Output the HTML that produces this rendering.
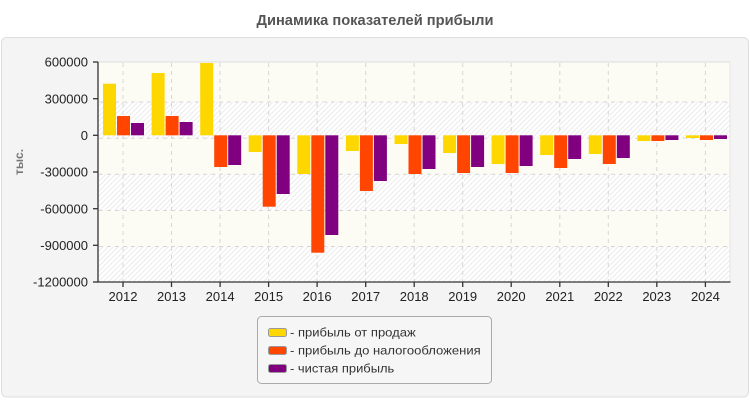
<!DOCTYPE html>
<html><head><meta charset="utf-8">
<style>
html,body{margin:0;padding:0;background:#fff;}
svg{display:block;}
text{font-family:"Liberation Sans","Noto Sans CJK SC",sans-serif;}
</style></head>
<body>
<svg width="750" height="400" viewBox="0 0 750 400" xmlns="http://www.w3.org/2000/svg">
<defs>
<pattern id="hatch" patternUnits="userSpaceOnUse" width="5" height="5">
<rect width="5" height="5" fill="#ffffff"/>
<path d="M-1,1 L1,-1 M0,5 L5,0 M4,6 L6,4" stroke="#ececec" stroke-width="1"/>
</pattern>
</defs>
<rect x="0" y="0" width="750" height="400" fill="#fff"/>
<text x="375" y="25" text-anchor="middle" font-size="14.5" font-weight="bold" fill="#555" textLength="237" lengthAdjust="spacingAndGlyphs">Динамика показателей прибыли</text>
<rect x="1.5" y="37.5" width="747" height="359.5" rx="5" fill="#f4f4f4" stroke="#dedede"/>

<!-- plot bands -->
<rect x="98" y="62" width="632" height="40" fill="#fcfcf4"/>
<rect x="98" y="102" width="632" height="36.3" fill="url(#hatch)"/>
<rect x="98" y="138.3" width="632" height="36" fill="#fcfcf4"/>
<rect x="98" y="174.3" width="632" height="36.2" fill="url(#hatch)"/>
<rect x="98" y="210.5" width="632" height="36" fill="#fcfcf4"/>
<rect x="98" y="246.5" width="632" height="35.5" fill="url(#hatch)"/>
<line x1="98" y1="62" x2="730" y2="62" stroke="#dcdcdc"/>
<line x1="730" y1="62" x2="730" y2="282" stroke="#e4e4e4"/>

<!-- grid -->
<g stroke="#d6d6d6" stroke-width="1" stroke-dasharray="4,4" fill="none">
<line x1="99" y1="102" x2="730" y2="102"/>
<line x1="99" y1="138.3" x2="730" y2="138.3"/>
<line x1="99" y1="174.3" x2="730" y2="174.3"/>
<line x1="99" y1="210.5" x2="730" y2="210.5"/>
<line x1="99" y1="246.5" x2="730" y2="246.5"/>
<line x1="123" y1="63" x2="123" y2="282"/>
<line x1="171.5" y1="63" x2="171.5" y2="282"/>
<line x1="220.1" y1="63" x2="220.1" y2="282"/>
<line x1="268.6" y1="63" x2="268.6" y2="282"/>
<line x1="317.1" y1="63" x2="317.1" y2="282"/>
<line x1="365.7" y1="63" x2="365.7" y2="282"/>
<line x1="414.2" y1="63" x2="414.2" y2="282"/>
<line x1="462.7" y1="63" x2="462.7" y2="282"/>
<line x1="511.2" y1="63" x2="511.2" y2="282"/>
<line x1="559.8" y1="63" x2="559.8" y2="282"/>
<line x1="608.3" y1="63" x2="608.3" y2="282"/>
<line x1="656.8" y1="63" x2="656.8" y2="282"/>
<line x1="705.4" y1="63" x2="705.4" y2="282"/>
</g>

<!-- bars: yellow -->
<g fill="#FFD700">
<rect x="103" y="83.7" width="13" height="51.6"/>
<rect x="151.6" y="73" width="13" height="62.3"/>
<rect x="200.2" y="63" width="13" height="72.3"/>
<rect x="248.7" y="135.3" width="13" height="16.7"/>
<rect x="297.3" y="135.3" width="13" height="38.7"/>
<rect x="345.9" y="135.3" width="13" height="15.7"/>
<rect x="394.5" y="135.3" width="13" height="8.7"/>
<rect x="443.1" y="135.3" width="13" height="17.7"/>
<rect x="491.6" y="135.3" width="13" height="28.7"/>
<rect x="540.2" y="135.3" width="13" height="19.7"/>
<rect x="588.8" y="135.3" width="13" height="18.7"/>
<rect x="637.4" y="135.3" width="13" height="5.7"/>
<rect x="686" y="135.3" width="13" height="2.7"/>
</g>
<!-- bars: orange -->
<g fill="#FF4500">
<rect x="117" y="116" width="13" height="19.3"/>
<rect x="165.6" y="116" width="13" height="19.3"/>
<rect x="214.2" y="135.3" width="13" height="31.7"/>
<rect x="262.7" y="135.3" width="13" height="71.4"/>
<rect x="311.3" y="135.3" width="13" height="117.4"/>
<rect x="359.9" y="135.3" width="13" height="55.7"/>
<rect x="408.5" y="135.3" width="13" height="38.7"/>
<rect x="457.1" y="135.3" width="13" height="37.7"/>
<rect x="505.6" y="135.3" width="13" height="37.7"/>
<rect x="554.2" y="135.3" width="13" height="32.7"/>
<rect x="602.8" y="135.3" width="13" height="28.7"/>
<rect x="651.4" y="135.3" width="13" height="5.7"/>
<rect x="700" y="135.3" width="13" height="4.7"/>
</g>
<!-- bars: purple -->
<g fill="#800080">
<rect x="131" y="123" width="13" height="12.3"/>
<rect x="179.6" y="122" width="13" height="13.3"/>
<rect x="228.2" y="135.3" width="13" height="29.7"/>
<rect x="276.7" y="135.3" width="13" height="58.7"/>
<rect x="325.3" y="135.3" width="13" height="99.7"/>
<rect x="373.9" y="135.3" width="13" height="45.7"/>
<rect x="422.5" y="135.3" width="13" height="33.7"/>
<rect x="471.1" y="135.3" width="13" height="31.7"/>
<rect x="519.6" y="135.3" width="13" height="30.7"/>
<rect x="568.2" y="135.3" width="13" height="23.7"/>
<rect x="616.8" y="135.3" width="13" height="22.7"/>
<rect x="665.4" y="135.3" width="13" height="4.7"/>
<rect x="714" y="135.3" width="13" height="3.7"/>
</g>

<!-- axes -->
<g stroke="#333" stroke-width="1.3" fill="none">
<line x1="98" y1="62" x2="98" y2="282.5"/>
<line x1="97.5" y1="282" x2="730.5" y2="282"/>
<line x1="93" y1="62" x2="98" y2="62"/>
<line x1="93" y1="98.7" x2="98" y2="98.7"/>
<line x1="93" y1="135.3" x2="98" y2="135.3"/>
<line x1="93" y1="172" x2="98" y2="172"/>
<line x1="93" y1="208.7" x2="98" y2="208.7"/>
<line x1="93" y1="245.3" x2="98" y2="245.3"/>
<line x1="93" y1="282" x2="98" y2="282"/>
<line x1="123" y1="282" x2="123" y2="287"/>
<line x1="171.5" y1="282" x2="171.5" y2="287"/>
<line x1="220.1" y1="282" x2="220.1" y2="287"/>
<line x1="268.6" y1="282" x2="268.6" y2="287"/>
<line x1="317.1" y1="282" x2="317.1" y2="287"/>
<line x1="365.7" y1="282" x2="365.7" y2="287"/>
<line x1="414.2" y1="282" x2="414.2" y2="287"/>
<line x1="462.7" y1="282" x2="462.7" y2="287"/>
<line x1="511.2" y1="282" x2="511.2" y2="287"/>
<line x1="559.8" y1="282" x2="559.8" y2="287"/>
<line x1="608.3" y1="282" x2="608.3" y2="287"/>
<line x1="656.8" y1="282" x2="656.8" y2="287"/>
<line x1="705.4" y1="282" x2="705.4" y2="287"/>
</g>

<!-- y labels -->
<g font-size="13" fill="#222" text-anchor="end">
<text x="88" y="66.6">600000</text>
<text x="88" y="103.3">300000</text>
<text x="88" y="139.9">0</text>
<text x="88" y="176.6">-300000</text>
<text x="88" y="213.3">-600000</text>
<text x="88" y="249.9">-900000</text>
<text x="88" y="286.6">-1200000</text>
</g>
<text transform="translate(23,162) rotate(-90)" text-anchor="middle" font-size="12" font-weight="bold" fill="#777">тыс.</text>

<!-- x labels -->
<g font-size="13" fill="#222" text-anchor="middle">
<text x="123" y="301">2012</text>
<text x="171.5" y="301">2013</text>
<text x="220.1" y="301">2014</text>
<text x="268.6" y="301">2015</text>
<text x="317.1" y="301">2016</text>
<text x="365.7" y="301">2017</text>
<text x="414.2" y="301">2018</text>
<text x="462.7" y="301">2019</text>
<text x="511.2" y="301">2020</text>
<text x="559.8" y="301">2021</text>
<text x="608.3" y="301">2022</text>
<text x="656.8" y="301">2023</text>
<text x="705.4" y="301">2024</text>
</g>

<!-- legend -->
<rect x="257.5" y="316.5" width="234" height="67" rx="4" fill="#f6f6f6" stroke="#aaa"/>
<rect x="268.5" y="328.5" width="18" height="8" rx="2" fill="#FFD700" stroke="#999"/>
<rect x="268.5" y="346.5" width="18" height="8" rx="2" fill="#FF4500" stroke="#999"/>
<rect x="268.5" y="364.5" width="18" height="8" rx="2" fill="#800080" stroke="#999"/>
<g font-size="12.3" fill="#333">
<text x="290" y="336.5" textLength="125.7" lengthAdjust="spacingAndGlyphs">- прибыль от продаж</text>
<text x="290" y="354.5" textLength="190.7" lengthAdjust="spacingAndGlyphs">- прибыль до налогообложения</text>
<text x="290" y="372.5" textLength="104.3" lengthAdjust="spacingAndGlyphs">- чистая прибыль</text>
</g>
</svg>
</body></html>
